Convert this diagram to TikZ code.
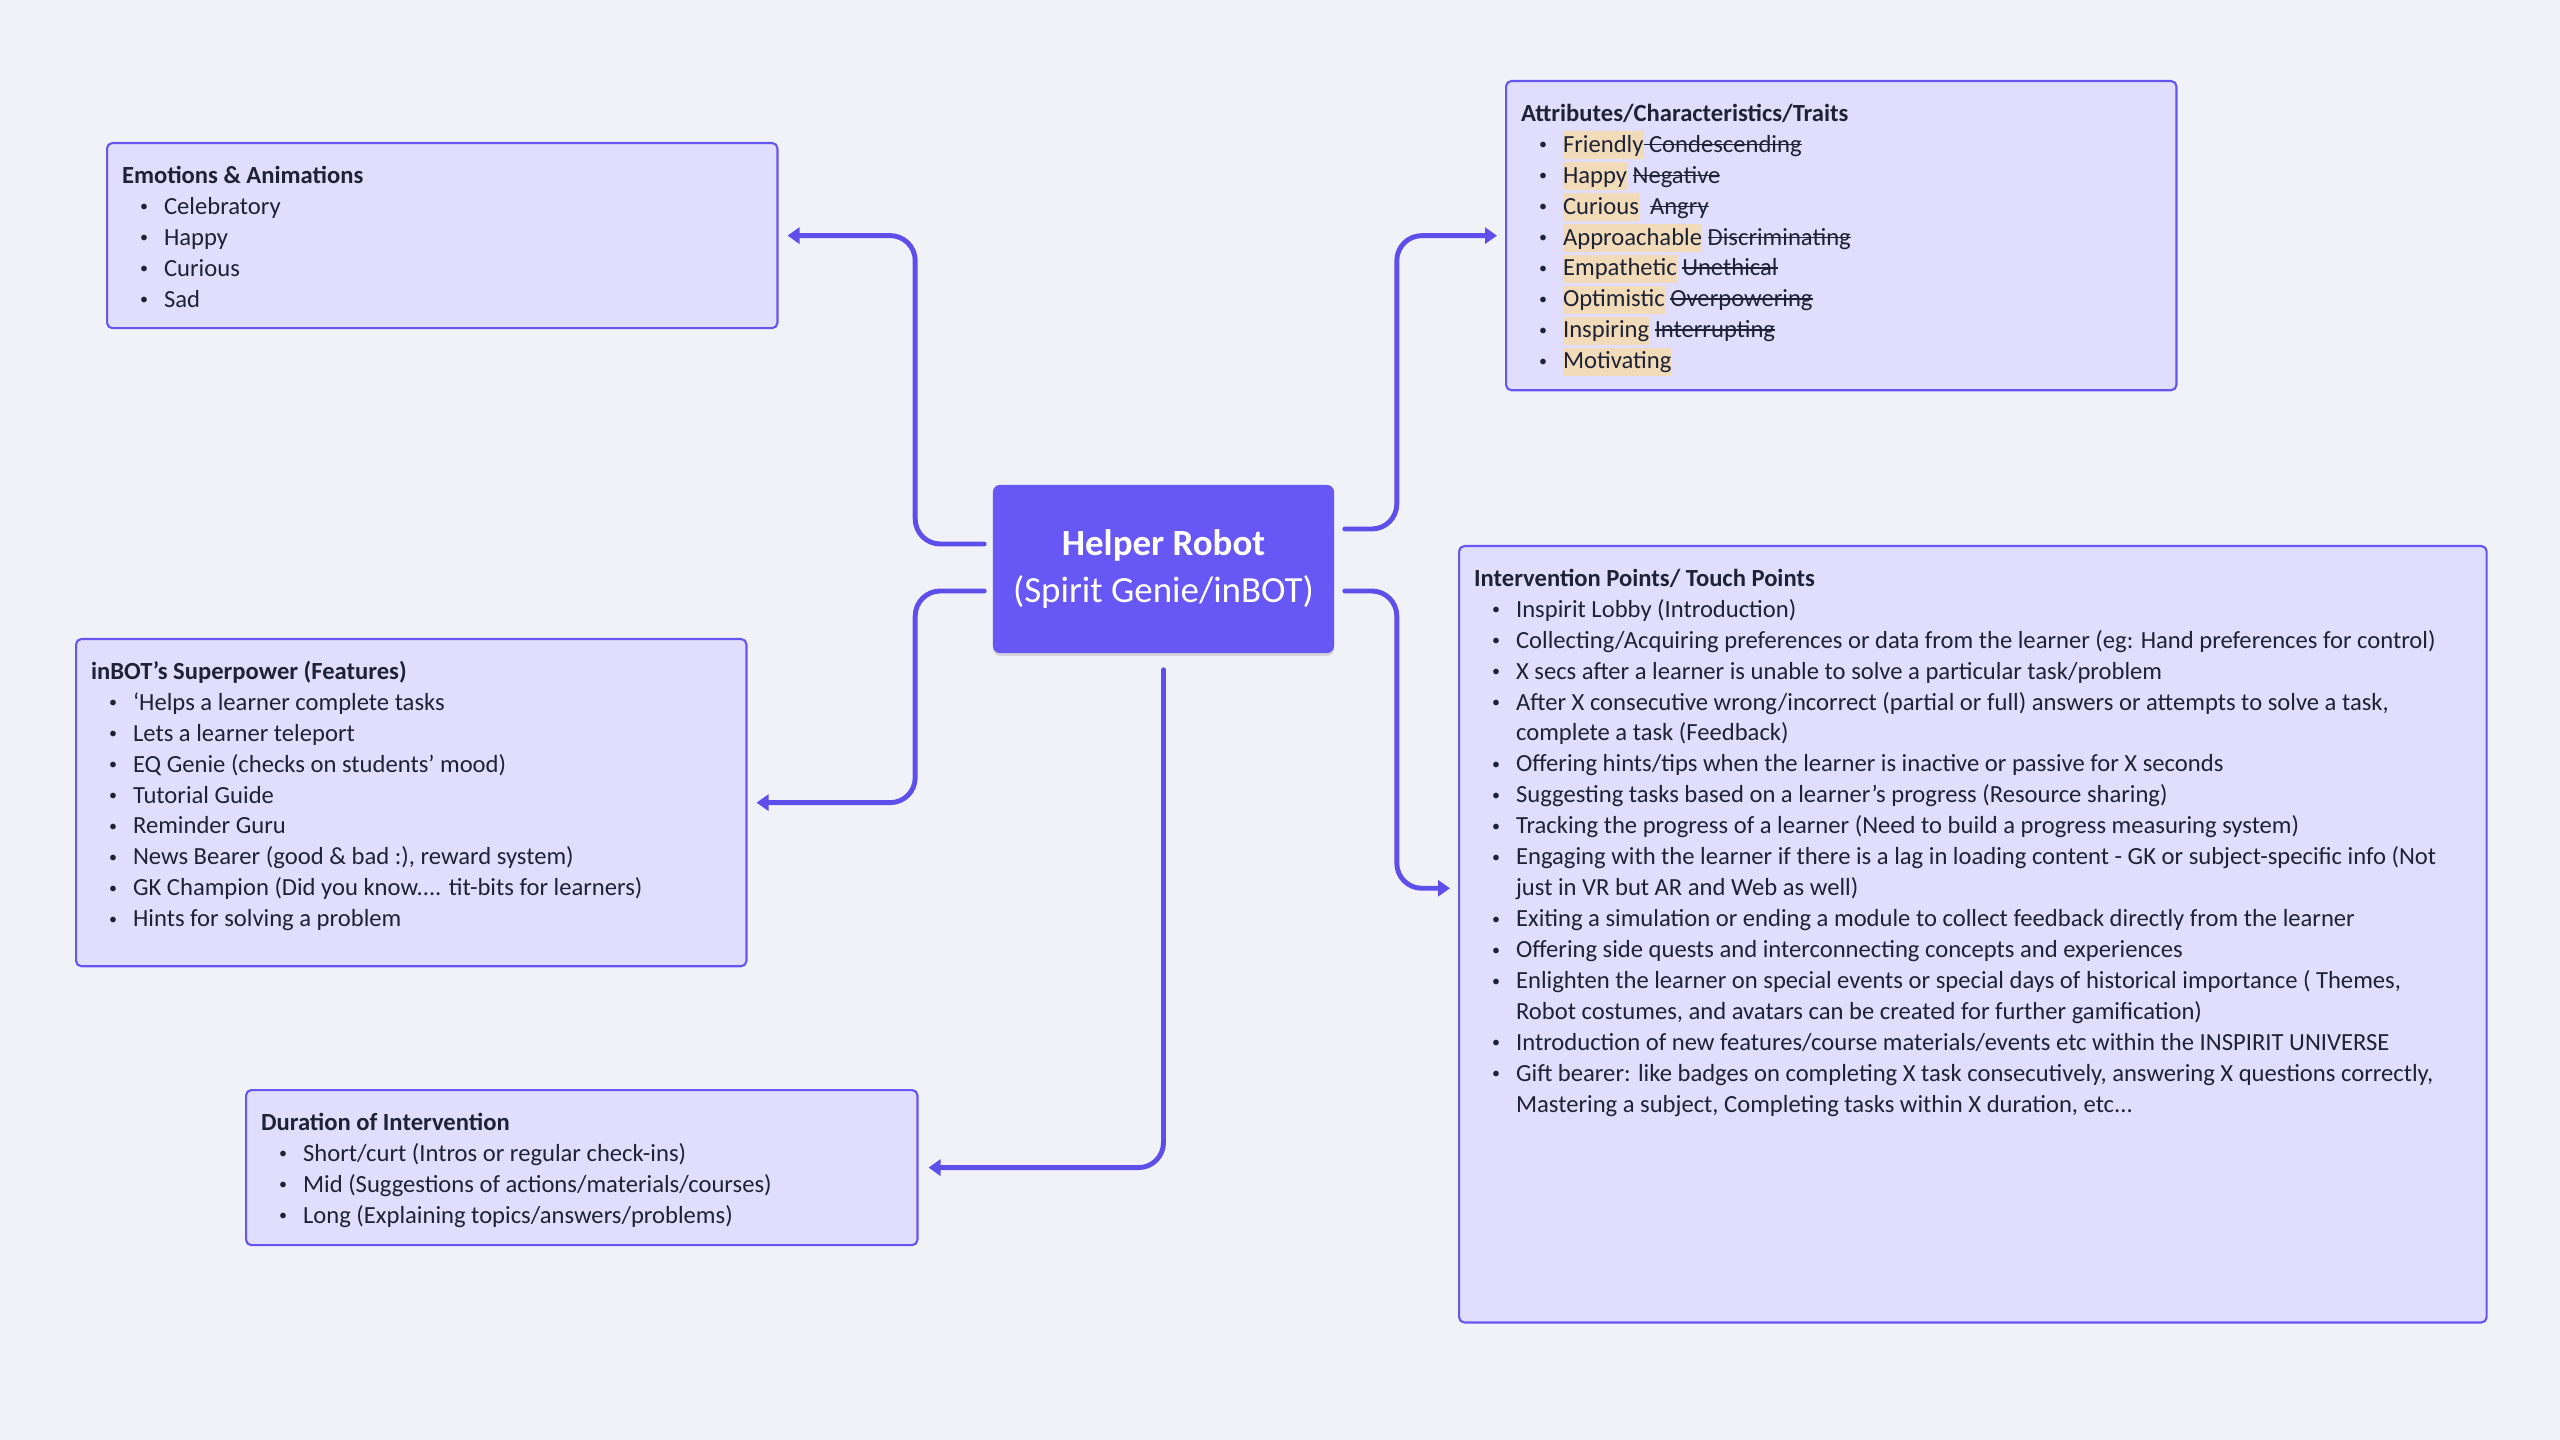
\documentclass[tikz,border=0pt]{standalone}
\usepackage{fontspec}
\setmainfont{Carlito}
\usetikzlibrary{arrows.meta,calc,shadows}
\definecolor{bgcol}{HTML}{F1F2F8}
\definecolor{cardfill}{HTML}{E1DDFC}
\definecolor{cardline}{HTML}{6456EE}
\definecolor{hubfill}{HTML}{6757F4}
\definecolor{linkcol}{HTML}{5E4FEA}
\definecolor{ink}{HTML}{1E2235}
\definecolor{hlcol}{HTML}{F1DBB9}
\newcommand\hl[1]{{\setlength\fboxsep{0pt}\colorbox{hlcol}{\rule[-0.28em]{0pt}{1.12em}#1}}}
\newcommand\strk[1]{\setbox0\hbox{#1}\rlap{\rule[0.28em]{\wd0}{0.45pt}}\box0}
\newcommand\itm[1]{\par\hangindent=0.42cm\hangafter=1\noindent
  \hspace*{0.42cm}\llap{\raisebox{0.1em}{\scalebox{0.65}{\textbullet}}\hspace{0.16cm}}#1}
\newcommand\cardbody[3]{\parbox[c][#2][t]{#1}{\raggedright
  \rule{0pt}{\dimexpr0.7\baselineskip+0.045cm\relax}#3}}
\begin{document}
\begin{tikzpicture}[x=0.01cm,y=-0.01cm,line join=round,line cap=round,
  card/.style={draw=cardline,line width=0.6pt,fill=cardfill,rounded corners=1.5pt,
    inner xsep=0.15cm,inner ysep=0.14cm,anchor=north west,text=ink,
    font=\fontsize{7}{8.8}\selectfont},
  hubbox/.style={fill=hubfill,rounded corners=2pt,minimum width=3.41cm,minimum height=1.68cm,
    text=white,align=center,font=\fontsize{10.5}{13.6}\selectfont,
    drop shadow={shadow xshift=0pt,shadow yshift=-0.8pt,opacity=0.12,fill=black}},
  link/.style={draw=linkcol,line width=1.4pt,rounded corners=0.25cm,
    -{Triangle[length=0.12cm,width=0.16cm]}}]
  \useasboundingbox (0,0) rectangle (2560,1440);
  \fill[bgcol] (0,0) rectangle (2560,1440);
  % centre
  \node[hubbox] (hub) at (1163.5,569) {\textbf{Helper Robot}\\(Spirit Genie/inBOT)};
  % cards
  \node[card] (emo) at (106,142) {\cardbody{6.40cm}{1.57cm}{%
    \textbf{Emotions \& Animations}
    \itm{Celebratory}
    \itm{Happy}
    \itm{Curious}
    \itm{Sad}}};
  \node[card] (attr) at (1505,80) {\cardbody{6.40cm}{2.81cm}{%
    \textbf{Attributes/Characteristics/Traits}
    \itm{\hl{Friendly}\strk{\ Condescending}}
    \itm{\hl{Happy} \strk{Negative}}
    \itm{\hl{Curious}\ \ \strk{Angry}}
    \itm{\hl{Approachable} \strk{Discriminating}}
    \itm{\hl{Empathetic} \strk{Unethical}}
    \itm{\hl{Optimistic} \strk{Overpowering}}
    \itm{\hl{Inspiring} \strk{Interrupting}}
    \itm{\hl{Motivating}}}};
  \node[card] (feat) at (75,638) {\cardbody{6.40cm}{2.99cm}{%
    \textbf{inBOT’s Superpower (Features)}
    \itm{‘Helps a learner complete tasks}
    \itm{Lets a learner teleport}
    \itm{EQ Genie (checks on students’ mood)}
    \itm{Tutorial Guide}
    \itm{Reminder Guru}
    \itm{News Bearer (good \& bad :), reward system)}
    \itm{GK Champion (Did you know.... tit-bits for learners)}
    \itm{Hints for solving a problem}}};
  \node[card] (dur) at (245,1089) {\cardbody{6.41cm}{1.27cm}{%
    \textbf{Duration of Intervention}
    \itm{Short/curt (Intros or regular check-ins)}
    \itm{Mid (Suggestions of actions/materials/courses)}
    \itm{Long (Explaining topics/answers/problems)}}};
  \node[card] (intv) at (1458,545) {\cardbody{9.97cm}{7.48cm}{%
    \textbf{Intervention Points/ Touch Points}
    \itm{Inspirit Lobby (Introduction)}
    \itm{Collecting/Acquiring preferences or data from the learner (eg: Hand preferences for control)}
    \itm{X secs after a learner is unable to solve a particular task/problem}
    \itm{After X consecutive wrong/incorrect (partial or full) answers or attempts to solve a task,\newline complete a task (Feedback)}
    \itm{Offering hints/tips when the learner is inactive or passive for X seconds}
    \itm{Suggesting tasks based on a learner’s progress (Resource sharing)}
    \itm{Tracking the progress of a learner (Need to build a progress measuring system)}
    \itm{Engaging with the learner if there is a lag in loading content - GK or subject-specific info (Not\newline just in VR but AR and Web as well)}
    \itm{Exiting a simulation or ending a module to collect feedback directly from the learner}
    \itm{Offering side quests and interconnecting concepts and experiences}
    \itm{Enlighten the learner on special events or special days of historical importance ( Themes,\newline Robot costumes, and avatars can be created for further gamification)}
    \itm{Introduction of new features/course materials/events etc within the INSPIRIT UNIVERSE}
    \itm{Gift bearer: like badges on completing X task consecutively, answering X questions correctly,\newline Mastering a subject, Completing tasks within X duration, etc...}}};
  % links
  \draw[link] ($(hub.west)+(-8,-25)$) -- ++(-69,0) |- ($(emo.east)+(9,0)$);
  \draw[link] ($(hub.west)+(-8,22)$) -- ++(-69,0) |- ($(feat.east)+(9,0)$);
  \draw[link] ($(hub.south)+(0,16)$) |- ($(dur.east)+(10,0)$);
  \draw[link] ($(hub.east)+(10,-40)$) -- ++(52,0) |- ($(attr.west)+(-8,0)$);
  \draw[link] ($(hub.east)+(10,22)$) -- ++(52,0) |- ($(intv.west)+(-8,-46)$);
\end{tikzpicture}
\end{document}
